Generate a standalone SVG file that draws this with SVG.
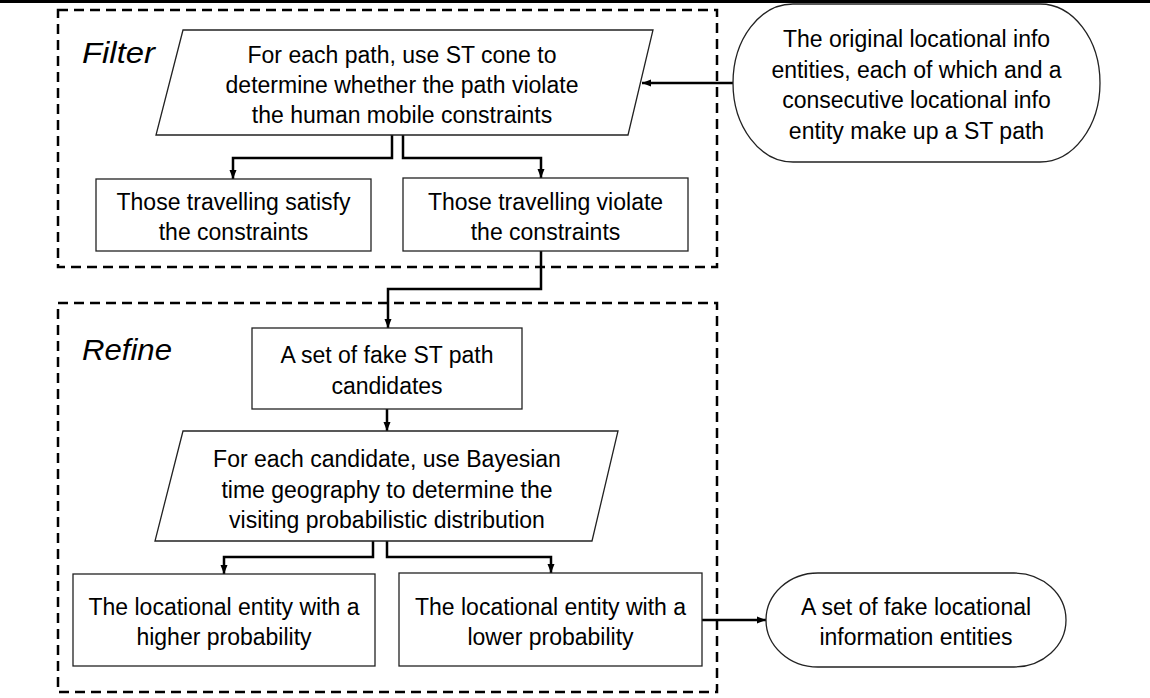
<svg xmlns="http://www.w3.org/2000/svg" width="1150" height="698" viewBox="0 0 1150 698">
<defs>
<marker id="ah" markerUnits="userSpaceOnUse" markerWidth="9" markerHeight="8" viewBox="0 0 9 8" refX="9" refY="4" orient="auto">
<path d="M0,0.5 L9,4 L0,7.5 Z" fill="#000"/>
</marker>
<style>
.grp{fill:none;stroke:#000;stroke-width:2.5;stroke-dasharray:10 6}
.nd{fill:#fff;stroke:#222;stroke-width:1.3}
.t{font-family:"Liberation Sans",Arial,sans-serif;font-size:23px;fill:#000;text-anchor:middle}
.lbl{font-family:"Liberation Sans",Arial,sans-serif;font-size:30px;font-style:italic;fill:#000}
.cn{fill:none;stroke:#000;stroke-width:2.5;marker-end:url(#ah)}
</style>
</defs>
<rect width="1150" height="698" fill="#fff"/>
<line x1="0" y1="1.5" x2="1150" y2="1.5" stroke="#000" stroke-width="3"/>
<g id="filter-group">
<rect class="grp" x="58" y="10" width="659" height="257"/>
<text class="lbl" x="82" y="63" textLength="73" lengthAdjust="spacingAndGlyphs">Filter</text>
</g>
<g id="refine-group">
<rect class="grp" x="58" y="303" width="659" height="389"/>
<text class="lbl" x="82" y="360" textLength="90" lengthAdjust="spacingAndGlyphs">Refine</text>
</g>
<g id="connectors">
<path class="cn" d="M733,83 L642,83"/>
<path class="cn" d="M392,135 L392,158 L233,158 L233,179"/>
<path class="cn" d="M403,135 L403,158 L541,158 L541,178"/>
<path class="cn" d="M541,251 L541,289 L388,289 L388,328"/>
<path class="cn" d="M387,409 L387,431"/>
<path class="cn" d="M373,541 L373,557 L224,557 L224,574"/>
<path class="cn" d="M387,541 L387,557 L551,557 L551,573"/>
<path class="cn" d="M702,620 L766,620"/>
</g>
<g id="n-original">
<rect class="nd" x="733" y="4" width="367" height="158" rx="60" ry="79"/>
<text class="t" x="916.5" y="47">The original locational info</text>
<text class="t" x="916.5" y="77.5">entities, each of which and a</text>
<text class="t" x="916.5" y="108">consecutive locational info</text>
<text class="t" x="916.5" y="138.5">entity make up a ST path</text>
</g>
<g id="n-stcone">
<polygon class="nd" points="183,30 653,30 628,135 156,135"/>
<text class="t" x="402" y="63">For each path, use ST cone to</text>
<text class="t" x="402" y="93">determine whether the path violate</text>
<text class="t" x="402" y="123">the human mobile constraints</text>
</g>
<g id="n-satisfy">
<rect class="nd" x="96" y="179" width="275" height="72"/>
<text class="t" x="233.5" y="210">Those travelling satisfy</text>
<text class="t" x="233.5" y="240">the constraints</text>
</g>
<g id="n-violate">
<rect class="nd" x="403" y="178" width="285" height="73"/>
<text class="t" x="545.5" y="210">Those travelling violate</text>
<text class="t" x="545.5" y="240">the constraints</text>
</g>
<g id="n-candidates">
<rect class="nd" x="252" y="328" width="270" height="81"/>
<text class="t" x="387" y="363">A set of fake ST path</text>
<text class="t" x="387" y="394">candidates</text>
</g>
<g id="n-bayesian">
<polygon class="nd" points="183,431 618,431 592,541 155,541"/>
<text class="t" x="387" y="467">For each candidate, use Bayesian</text>
<text class="t" x="387" y="497.5">time geography to determine the</text>
<text class="t" x="387" y="528">visiting probabilistic distribution</text>
</g>
<g id="n-higher">
<rect class="nd" x="73" y="574" width="302" height="92"/>
<text class="t" x="224" y="615">The locational entity with a</text>
<text class="t" x="224" y="645">higher probability</text>
</g>
<g id="n-lower">
<rect class="nd" x="399" y="573" width="303" height="93"/>
<text class="t" x="550.5" y="615">The locational entity with a</text>
<text class="t" x="550.5" y="645">lower probability</text>
</g>
<g id="n-fake">
<rect class="nd" x="766" y="573" width="300" height="94" rx="52" ry="47"/>
<text class="t" x="916" y="615">A set of fake locational</text>
<text class="t" x="916" y="645">information entities</text>
</g>
</svg>
